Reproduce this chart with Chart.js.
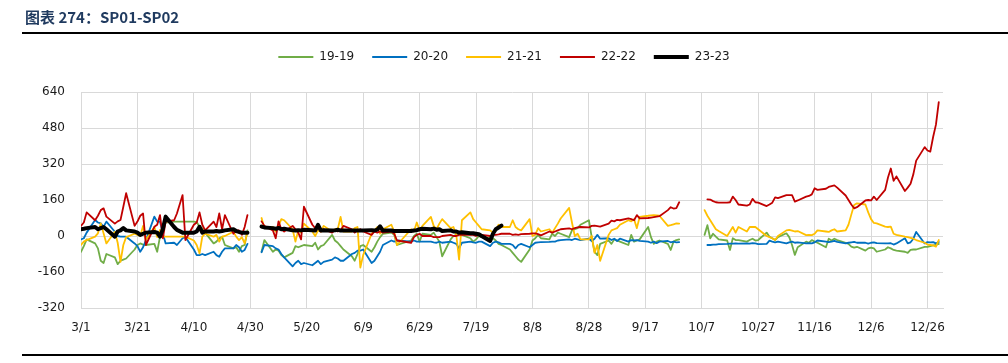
<!DOCTYPE html>
<html><head><meta charset="utf-8">
<script src="https://cdn.jsdelivr.net/npm/chart.js@4.4.1/dist/chart.umd.min.js"></script>
<style>
html,body{margin:0;padding:0;background:#fff;width:1008px;height:363px;overflow:hidden;}
#title{position:absolute;left:25px;top:6px;font:bold 15px "Noto Sans CJK SC","Noto Sans",sans-serif;color:#1F3A5F;z-index:2;}
#rule{position:absolute;left:22px;top:32px;width:986px;height:2px;background:#000;z-index:2;}
#rule2{position:absolute;left:22px;top:354px;width:986px;height:2px;background:#000;z-index:2;}
#wrap{position:absolute;left:0;top:0;width:1008px;height:363px;}
</style></head>
<body>
<div id="title">图表 274：SP01-SP02</div>
<div id="rule"></div>
<div id="wrap"><canvas id="c" width="1008" height="363"></canvas></div>
<div id="rule2"></div>
<script>
const dates = [
 "3/1","3/2","3/3","3/6","3/7","3/8","3/9","3/10","3/13","3/14","3/15","3/16","3/17","3/20","3/21","3/22","3/23","3/24","3/27","3/28","3/29","3/30","3/31",
 "4/3","4/4","4/6","4/7","4/10","4/11","4/12","4/13","4/14","4/17","4/18","4/19","4/20","4/21","4/24","4/25","4/26","4/27","4/28","4/29",
 "5/1",
 "5/4","5/5","5/8","5/9","5/10","5/11","5/12","5/15","5/16","5/17","5/18","5/19","5/22","5/23","5/24","5/25","5/26","5/29","5/30","5/31",
 "6/1","6/2","6/5","6/6","6/7","6/8","6/9","6/12","6/13","6/14","6/15","6/16","6/19","6/20","6/21","6/26","6/27","6/28","6/29","6/30",
 "7/3","7/4","7/5","7/6","7/7","7/10","7/11","7/12","7/13","7/14","7/17","7/18","7/19","7/20","7/21","7/24","7/25","7/26","7/27","7/28","7/31",
 "8/1","8/2","8/3","8/4","8/7","8/8","8/9","8/10","8/11","8/14","8/15","8/16","8/17","8/18","8/21","8/22","8/23","8/24","8/25","8/28","8/29","8/30","8/31",
 "9/1","9/4","9/5","9/6","9/7","9/8","9/11","9/12","9/13","9/14","9/15","9/18","9/19","9/20","9/21","9/22","9/25","9/26","9/27","9/28","9/29",
 "10/1",
 "10/8","10/9","10/10","10/11","10/12","10/13","10/16","10/17","10/18","10/19","10/20","10/23","10/24","10/25","10/26","10/27","10/30","10/31",
 "11/1","11/2","11/3","11/6","11/7","11/8","11/9","11/10","11/13","11/14","11/15","11/16","11/17","11/20","11/21","11/22","11/23","11/24","11/27","11/28","11/29","11/30",
 "12/1","12/4","12/5","12/6","12/7","12/8","12/11","12/12","12/13","12/14","12/15","12/18","12/19","12/20","12/21","12/22","12/25","12/26","12/27","12/28","12/29","12/30"
];

const s1919 = [
 -70,-45,-15,-33,-55,-110,-120,-80,-95,-125,-110,-105,-100,-60,-40,-33,-38,-40,-35,-70,-3,41,60,
 64,64,64,64,64,62,41,34,15,-33,-25,-10,-3,-40,-55,-50,-70,-45,-40,25,
 null,
 -70,-18,-70,-60,-65,-85,-95,-75,-45,-50,-45,-40,-45,-30,-60,-45,-40,5,-20,-30,
 -45,-60,-90,-110,-80,-45,-40,-70,-50,-25,-5,10,15,5,-40,-20,0,10,-25,10,
 5,15,-5,-25,-90,-15,0,5,10,5,-10,-25,-15,0,-5,-10,-10,-20,-35,-40,-60,
 -75,-90,-105,-115,-60,-20,-10,5,-10,-15,10,0,15,10,-5,25,30,35,50,70,-5,-70,-85,
 -35,-20,-35,-15,-20,-25,-40,5,-25,-20,-15,40,-5,-35,-25,-20,-35,-62,-25,-18,-15,
 null,
 5,48,-10,10,-3,-15,-20,-62,-10,-18,-18,-25,-18,-12,-20,-18,15,-3,
 -10,-18,-5,12,-5,-40,-84,-50,-25,-30,-18,-25,-30,-50,-12,-20,-12,-18,-30,-35,-47,-52,
 -48,-65,-55,-52,-55,-70,-60,-50,-55,-62,-65,-70,-75,-62,-60,-60,-48,-48,-45,-42,-40,-35
];

const s2020 = [
 -15,-10,15,71,60,56,41,64,19,0,-3,-3,-3,-33,-45,-70,-50,-18,86,64,64,12,-33,
 -30,-40,-10,-5,-60,-85,-85,-80,-85,-70,-85,-92,-70,-55,-55,-40,-50,-70,-62,-35,
 null,
 -72,-40,-45,-55,-60,-80,-95,-135,-120,-110,-125,-120,-130,-120,-110,-125,-115,-105,-95,-100,
 -110,-110,-80,-75,-65,-65,-60,-120,-110,-90,-70,-40,-20,-25,-20,-25,-20,-25,-25,-25,
 -25,-28,-30,-25,-30,-25,-30,-35,-55,-30,-25,-28,-30,-25,-25,-45,-30,-25,-28,-35,-35,
 -40,-55,-40,-35,-50,-40,-30,-28,-27,-26,-25,-25,-20,-18,-15,-18,-12,-15,-18,-12,-22,-12,5,
 -12,-10,-18,-12,-22,-12,-25,-18,-20,-18,-22,-25,-30,-25,-32,-25,-22,-28,-25,-28,-27,
 null,
 null,-40,-40,-38,-38,-36,-35,-34,-34,-33,-34,-33,-34,-32,-33,-36,-35,-21,
 -25,-28,-25,-33,-28,-25,-30,-28,-33,-32,-33,-28,-20,-25,-27,-25,-22,-26,-33,-30,-28,-26,
 -30,-30,-34,-30,-28,-32,-33,-33,-32,-38,-33,-10,-33,-28,-12,18,-33,-27,-28,-27,-33,-26
];

const s2121 = [
 -40,-25,-18,-3,12,56,12,-33,19,-30,-115,-40,-5,10,5,0,45,-18,40,-5,27,-3,-3,
 -3,-3,-3,-3,-20,-40,-77,-3,10,-3,5,-25,-3,0,19,-3,-18,-5,-33,19,
 null,
 80,35,40,20,45,75,70,30,-25,25,15,55,20,0,25,20,45,20,30,30,
 85,20,20,35,40,-140,-85,10,25,40,10,30,50,20,-40,30,20,60,25,45,
 85,45,30,55,75,35,40,5,-105,70,105,75,60,45,30,25,15,25,50,40,40,
 70,40,30,25,75,0,5,35,20,30,15,35,55,78,125,60,0,10,-15,-15,0,-75,-40,
 -110,5,25,30,35,50,70,65,75,35,85,90,92,93,92,90,45,48,52,56,55,
 null,
 115,90,70,50,30,22,0,20,40,15,40,20,40,40,40,30,0,-5,
 -10,-18,0,25,27,24,20,22,4,5,4,10,25,20,18,25,30,20,25,50,95,138,
 145,140,105,75,58,56,42,40,42,10,5,-3,-5,-8,-12,-18,-30,-38,-40,-42,-47,-18
];

const s2222 = [
 45,60,105,70,90,115,123,86,55,65,71,130,190,45,64,90,100,-40,41,50,93,-10,64,
 70,100,182,-18,50,60,105,50,25,64,40,100,30,93,10,25,25,5,40,93,
 null,
 65,45,25,-10,65,30,20,45,30,15,-15,130,50,35,40,20,30,15,25,20,
 25,45,30,15,25,30,20,5,20,15,20,15,20,10,-20,-30,-5,5,10,0,
 0,-5,-5,-5,0,5,0,0,5,5,5,5,0,5,5,0,5,5,7,10,10,
 5,7,5,8,10,12,12,8,3,20,15,20,25,30,34,30,35,38,40,38,45,46,44,
 42,55,68,65,72,70,78,75,70,93,78,80,82,84,86,88,115,128,122,124,150,
 null,
 null,163,162,155,150,148,148,150,175,160,140,135,140,165,150,148,133,140,
 148,172,168,182,182,182,153,158,175,178,185,212,205,210,218,222,225,215,180,160,140,123,
 128,158,160,158,175,160,205,260,300,245,265,200,215,232,275,335,395,380,375,440,495,595
];

const s2323 = [
 30,32,35,40,30,35,40,30,-3,20,25,35,25,20,15,5,10,15,18,15,-3,30,86,
 40,27,15,15,15,20,41,15,20,20,22,20,22,25,30,22,18,15,15,15,
 null,
 42,38,35,32,36,30,32,25,24,26,25,28,26,24,50,24,26,24,25,28,
 24,24,24,24,24,25,25,26,24,28,43,24,24,22,22,22,24,26,30,32,
 30,33,28,30,22,25,20,20,15,17,12,12,10,8,0,-22,10,30,38,46
];

const seriesNames = ["19-19","20-20","21-21","22-22","23-23"];
const tickLabels = ["3/1","3/21","4/10","4/30","5/20","6/9","6/29","7/19","8/8","8/28","9/17","10/7","10/27","11/16","12/6","12/26"];
const yTicks = [-320,-160,0,160,320,480,640];

function dayIdx(s){const p=s.split('/').map(Number);return Math.round((Date.UTC(2023,p[0]-1,p[1])-Date.UTC(2023,2,1))/864e5);}
const mk = arr => dates.map((d,i)=>({x:dayIdx(d), y:(arr[i]===undefined?null:arr[i])}));

const colors = ["#70AD47","#0070C0","#FFC000","#C00000","#000000"];
const widths = [1.8,1.8,1.8,1.8,4];
const all = [s1919,s2020,s2121,s2222,s2323];
const FONT = {family:"'DejaVu Sans', sans-serif", size:12};

new Chart(document.getElementById('c'),{
  type:'line',
  data:{datasets: all.map((a,i)=>({
    label:seriesNames[i], data:mk(a), borderColor:colors[i], backgroundColor:colors[i],
    borderWidth:widths[i], pointRadius:0, pointHoverRadius:0, tension:0, spanGaps:false,
    order:5-i, borderJoinStyle:'round', borderCapStyle:'round'
  }))},
  options:{
    responsive:false, animation:false, events:[],
    layout:{padding:{top:33,left:0,right:0,bottom:0}},
    plugins:{
      tooltip:{enabled:false},
      legend:{display:true,position:'top',align:'center',
        labels:{usePointStyle:true,pointStyle:'line',pointStyleWidth:35,boxHeight:12,padding:18,color:'#1a1a1a',font:FONT,
          sort:(a,b)=>a.datasetIndex-b.datasetIndex}}
    },
    scales:{
      x:{type:'linear',min:0,max:305.5,
        afterBuildTicks:s=>{s.ticks=tickLabels.map(l=>({value:dayIdx(l)}));},
        ticks:{autoSkip:false,maxRotation:0,padding:13,color:'#1a1a1a',font:FONT,
          callback:v=>{const i=tickLabels.findIndex(l=>dayIdx(l)===v);return i>=0?tickLabels[i]:'';}},
        grid:{color:'#d9d9d9',lineWidth:1,drawTicks:false},
        border:{color:'#d9d9d9',width:1},
        afterFit:s=>{s.height=55;}
      },
      xTop:{type:'linear',position:'top',display:true,
        ticks:{display:false},grid:{display:false,drawTicks:false},border:{display:false},
        afterFit:s=>{s.height=19;}
      },
      y:{min:-320,max:640,
        afterBuildTicks:s=>{s.ticks=yTicks.map(v=>({value:v}));},
        ticks:{padding:16,color:'#1a1a1a',font:FONT},
        grid:{color:'#d9d9d9',lineWidth:1,drawTicks:false},
        border:{color:'#d9d9d9',width:1},
        afterFit:s=>{s.width=81;}
      },
      yR:{type:'linear',position:'right',display:true,
        ticks:{display:false},grid:{display:false,drawTicks:false},border:{display:false},
        afterFit:s=>{s.width=65;}
      }
    }
  }
});
</script>
</body></html>
